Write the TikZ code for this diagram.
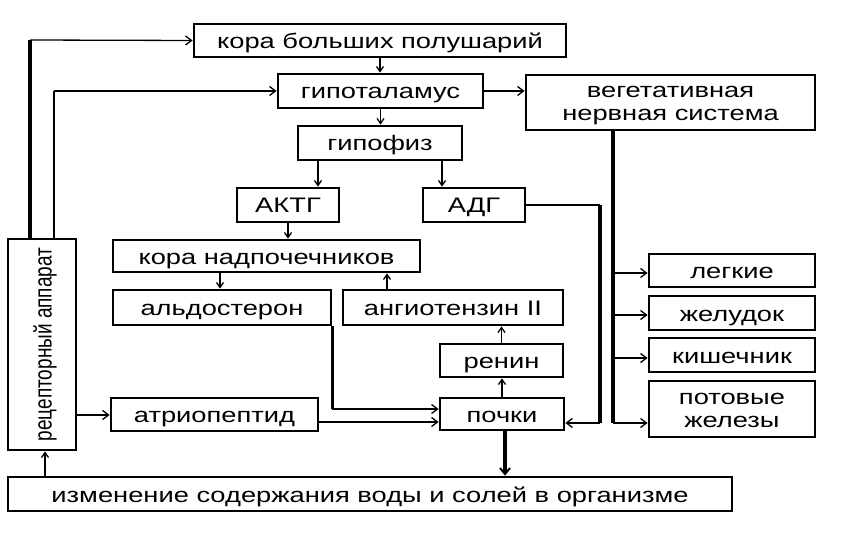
\documentclass[tikz,border=0pt]{standalone}
\usepackage{fontspec}
\setmainfont{Liberation Sans}[FakeStretch=1.3]
\newfontfamily\plainfont{Liberation Sans}
\usetikzlibrary{arrows.meta}
\tikzset{
  box/.style={draw, line width=2.8pt, inner sep=0pt, align=center,
    font=\fontsize{21}{23}\selectfont},
  onel/.style={box, text height=17pt, text depth=1pt},
  conn/.style={line width=1.3pt},
  medconn/.style={line width=1.8pt},
  thickconn/.style={line width=3.2pt},
  arr/.style={conn, -{Straight Barb[length=6pt,width=9pt,line width=1.3pt]}},
  varr/.style={conn, -{Straight Barb[length=5pt,width=7pt,line width=1.3pt]}},
  thickarr/.style={thickconn, -{Straight Barb[length=6pt,width=10pt,line width=2pt]}},
}
\begin{document}
\begin{tikzpicture}[x=1pt,y=-1pt]
\useasboundingbox (0,0) rectangle (851,540);
% boxes
\node[onel, minimum width=372pt, minimum height=33pt] (kbp) at (380,40.5) {кора больших полушарий};
\node[onel, minimum width=205pt, minimum height=34pt] (gip) at (380.5,91) {гипоталамус};
\node[onel, minimum width=164pt, minimum height=34pt] (gipof) at (380,143) {гипофиз};
\node[box, minimum width=289pt, minimum height=55pt] (veg) at (670.5,102.5) {};
\node[box, draw=none, yshift=-3pt] (vegt) at (veg.center) {вегетативная\\нервная система};
\node[onel, minimum width=102pt, minimum height=34pt] (aktg) at (288,205) {АКТГ};
\node[onel, minimum width=102pt, minimum height=34pt] (adg) at (474,205) {АДГ};
\node[onel, minimum width=307pt, minimum height=32pt] (kn) at (266.5,256) {кора надпочечников};
\node[onel, minimum width=218pt, minimum height=35pt] (ald) at (222,307.5) {альдостерон};
\node[onel, minimum width=220pt, minimum height=35pt] (ang) at (453,307.5) {ангиотензин II};
\node[onel, minimum width=123pt, minimum height=33pt] (ren) at (501.5,360.5) {ренин};
\node[onel, minimum width=124pt, minimum height=32pt] (poch) at (502,414) {почки};
\node[onel, minimum width=166pt, minimum height=33pt] (leg) at (732,270.5) {легкие};
\node[onel, minimum width=166pt, minimum height=34pt] (zhel) at (732,313) {желудок};
\node[onel, minimum width=166pt, minimum height=34pt] (kish) at (732,355) {кишечник};
\node[box, minimum width=166pt, minimum height=56pt] (pot) at (732,409) {};
\node[box, draw=none, yshift=-1pt] (pott) at (pot.center) {потовые\\железы};
\node[box, minimum width=68pt, minimum height=211pt] (rec) at (42,344.5) {};
\node[xshift=3pt] (rect) at (rec.center)
  {\rotatebox{90}{\scalebox{1}[1.3]{\plainfont\fontsize{19}{21}\selectfont рецепторный аппарат}}};
\node[onel, minimum width=207pt, minimum height=33pt] (atr) at (214.5,414.5) {атриопептид};
\node[onel, minimum width=724pt, minimum height=34pt] (izm) at (370,494) {изменение содержания воды и солей в организме};
% corner coordinates
\coordinate (j1) at (30,40);
\coordinate (j2) at (54,91);
\coordinate (j3) at (600,205);
\coordinate (j4) at (600,423);
\coordinate (j5) at (613,423);
\coordinate (j6) at (332,409);
% connectors
\draw[thickconn] (rec.north -| j1) -- (j1);
\draw[arr] (j1) -- (kbp.west);
\draw[medconn] (rec.north -| j2) -- (j2);
\draw[arr] (j2) -- (gip.west);
\draw[varr] (kbp.south) -- (kbp.south |- gip.north);
\draw[varr] (gip.south) -- (gip.south |- gipof.north);
\draw[arr] (gip.east) -- (gip.east -| veg.west);
\draw[varr] (gipof.south -| 318,0) -- (aktg.north -| 318,0);
\draw[varr] (gipof.south -| 442,0) -- (adg.north -| 442,0);
\draw[varr] (aktg.south) -- (aktg.south |- kn.north);
\draw[varr] (kn.south -| 220,0) -- (ald.north -| 220,0);
\draw[varr] (ang.north -| 387,0) -- (kn.south -| 387,0);
\draw[varr] (ren.north) -- (ren.north |- ang.south);
\draw[varr] (poch.north) -- (poch.north |- ren.south);
\draw[thickconn] (ald.south east) -- (ald.south east |- j6);
\draw[arr] (ald.south east |- j6) -- (poch.west |- j6);
\draw[arr] (atr.east |- 0,422) -- (poch.west |- 0,422);
\draw[conn] (adg.east) -- (j3);
\draw[thickconn] (j3) -- (j4);
\draw[arr] (j4) -- (poch.east |- j4);
\draw[thickconn] (veg.south -| j5) -- (j5);
\draw[arr] (j5 |- 0,273) -- (leg.west |- 0,273);
\draw[arr] (j5 |- 0,315) -- (zhel.west |- 0,315);
\draw[arr] (j5 |- 0,358) -- (kish.west |- 0,358);
\draw[arr] (j5) -- (pot.west |- j5);
\draw[thickarr] (poch.south -| 505,0) -- (izm.north -| 505,0);
\draw[varr] (izm.north -| 45,0) -- (rec.south -| 45,0);
\draw[arr] (rec.east |- 0,415) -- (atr.west |- 0,415);
\end{tikzpicture}
\end{document}
